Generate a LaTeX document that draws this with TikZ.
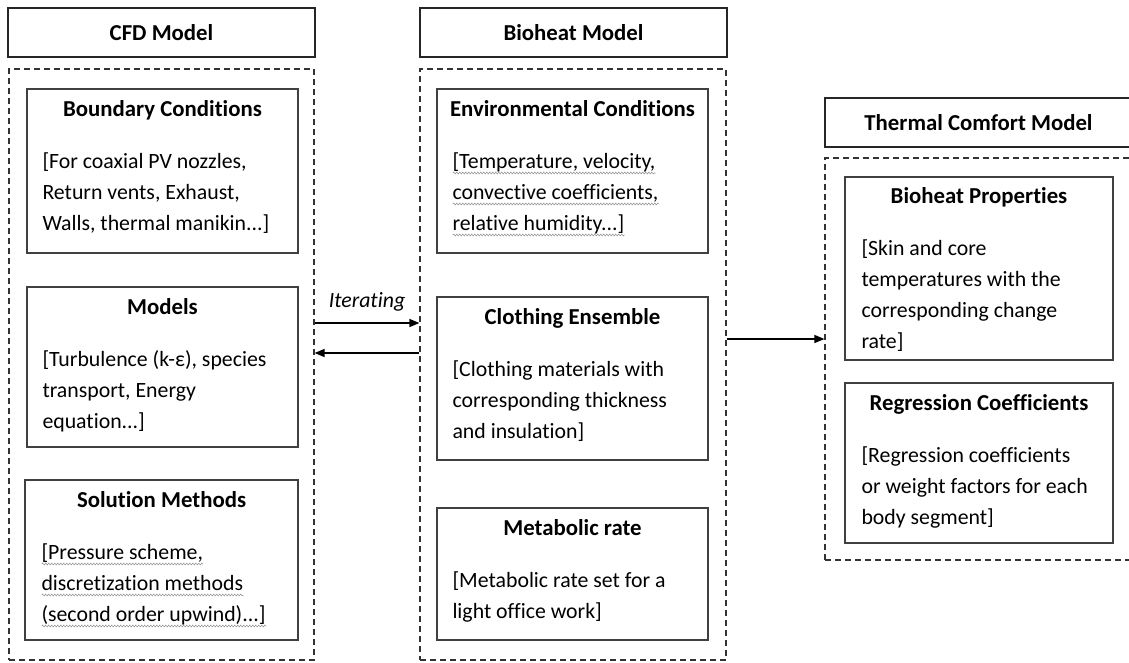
\documentclass[tikz,border=0pt]{standalone}
\usepackage{fontspec}
\setmainfont{Carlito}[Ligatures=NoCommon]
\usepackage{tikz}
\usetikzlibrary{positioning, arrows.meta, decorations.pathmorphing}

\tikzset{
  modelbox/.style={draw=black!85, line width=2.2pt, minimum width=307pt, minimum height=49pt, inner sep=0pt, font=\fontsize{22.8}{31}\selectfont\bfseries},
  groupbox/.style={draw=black!80, line width=1.2pt, dash pattern=on 6pt off 4pt, inner sep=0pt},
  partbox/.style={draw=black!75, line width=1.4pt, inner sep=0pt},
  head/.style={font=\fontsize{22.8}{31}\selectfont\bfseries, inner sep=0pt},
  body/.style={align=left, inner sep=0pt},
  arr/.style={line width=1.3pt, -{Triangle[length=10pt,width=8pt]}},
  squiggle/.style={black!40, line width=0.6pt, decorate, decoration={snake, amplitude=0.9pt, segment length=3pt}},
}
\newcommand\spell[1]{\setbox0=\hbox{#1}\rlap{\tikz[baseline=0pt]\draw[squiggle] (0pt,-4.5pt) -- (\the\wd0,-4.5pt);}\box0}

\begin{document}
\fontsize{21.8}{31}\selectfont
\begin{tikzpicture}[x=1pt, y=-1pt]
\clip (0,0) rectangle (1129,662);

\node[modelbox] (cfd) at (161.5,32.5) {CFD Model};
\node[groupbox, minimum width=305pt, minimum height=591pt] (cfdbox) at (161.5,364.5) {};
\node[partbox, minimum width=271pt, minimum height=164pt] (bc) at (162.5,171) {};
\node[head, below=28pt of bc.north, anchor=base] (bchead) {Boundary Conditions};
\node[body, below right=58.3pt and 16pt of bc.north west] (bctext)
  {\strut[For coaxial PV nozzles,\\Return vents, Exhaust,\\Walls, thermal manikin...]};
\node[partbox, minimum width=271pt, minimum height=160pt] (mod) at (162.5,367) {};
\node[head, below=28pt of mod.north, anchor=base] (modhead) {Models};
\node[body, below right=58.3pt and 16pt of mod.north west] (modtext)
  {\strut[Turbulence (k-ε), species\\transport, Energy\\equation...]};
\node[partbox, minimum width=273pt, minimum height=160pt] (sol) at (161.5,560) {};
\node[head, below=28pt of sol.north, anchor=base] (solhead) {Solution Methods};
\node[body, below right=58.3pt and 17pt of sol.north west] (soltext)
  {\strut\spell{[Pressure scheme,}\\\spell{discretization methods}\\\spell{(second order upwind)...]}};

\node[modelbox] (bio) at (573.5,32.5) {Bioheat Model};
\node[groupbox, minimum width=306pt, minimum height=591pt] (biobox) at (573,364.5) {};
\node[partbox, minimum width=271pt, minimum height=164pt] (env) at (572.5,171) {};
\node[head, below=28pt of env.north, anchor=base] (envhead) {Environmental Conditions};
\node[body, below right=58.3pt and 16pt of env.north west] (envtext)
  {\strut\spell{[Temperature, velocity,}\\\spell{convective coefficients,}\\\spell{relative humidity...]}};
\node[partbox, minimum width=271pt, minimum height=163pt] (clo) at (572.5,378.5) {};
\node[head, below=28pt of clo.north, anchor=base] (clohead) {Clothing Ensemble};
\node[body, below right=58.3pt and 16pt of clo.north west] (clotext)
  {\strut[Clothing materials with\\corresponding thickness\\and insulation]};
\node[partbox, minimum width=271pt, minimum height=132pt] (met) at (572.5,574) {};
\node[head, below=28pt of met.north, anchor=base] (methead) {Metabolic rate};
\node[body, below right=58.3pt and 16pt of met.north west] (mettext)
  {\strut[Metabolic rate set for a\\light office work]};

\node[modelbox] (th) at (978.5,122.5) {Thermal Comfort Model};
\node[groupbox, minimum width=306pt, minimum height=402pt] (thbox) at (978,359) {};
\node[partbox, minimum width=268pt, minimum height=183pt] (bp) at (979,268.5) {};
\node[head, below=27pt of bp.north, anchor=base] (bphead) {Bioheat Properties};
\node[body, below right=57.3pt and 17pt of bp.north west] (bptext)
  {\strut[Skin and core\\temperatures with the\\corresponding change\\rate]};
\node[partbox, minimum width=268pt, minimum height=160pt] (rc) at (979,463) {};
\node[head, below=28pt of rc.north, anchor=base] (rchead) {Regression Coefficients};
\node[body, below right=58.3pt and 17pt of rc.north west] (rctext)
  {\strut[Regression coefficients\\or weight factors for each\\body segment]};

\draw[arr] ([yshift=41.5pt]cfdbox.east) -- ([yshift=41.5pt]biobox.west)
  node[midway, above=4pt] {\itshape Iterating};
\draw[arr] ([yshift=11.5pt]biobox.west) -- ([yshift=11.5pt]cfdbox.east);
\draw[arr] ([yshift=25.5pt]biobox.east) -- ([yshift=25.5pt]biobox.east -| thbox.west);
\end{tikzpicture}
\end{document}
